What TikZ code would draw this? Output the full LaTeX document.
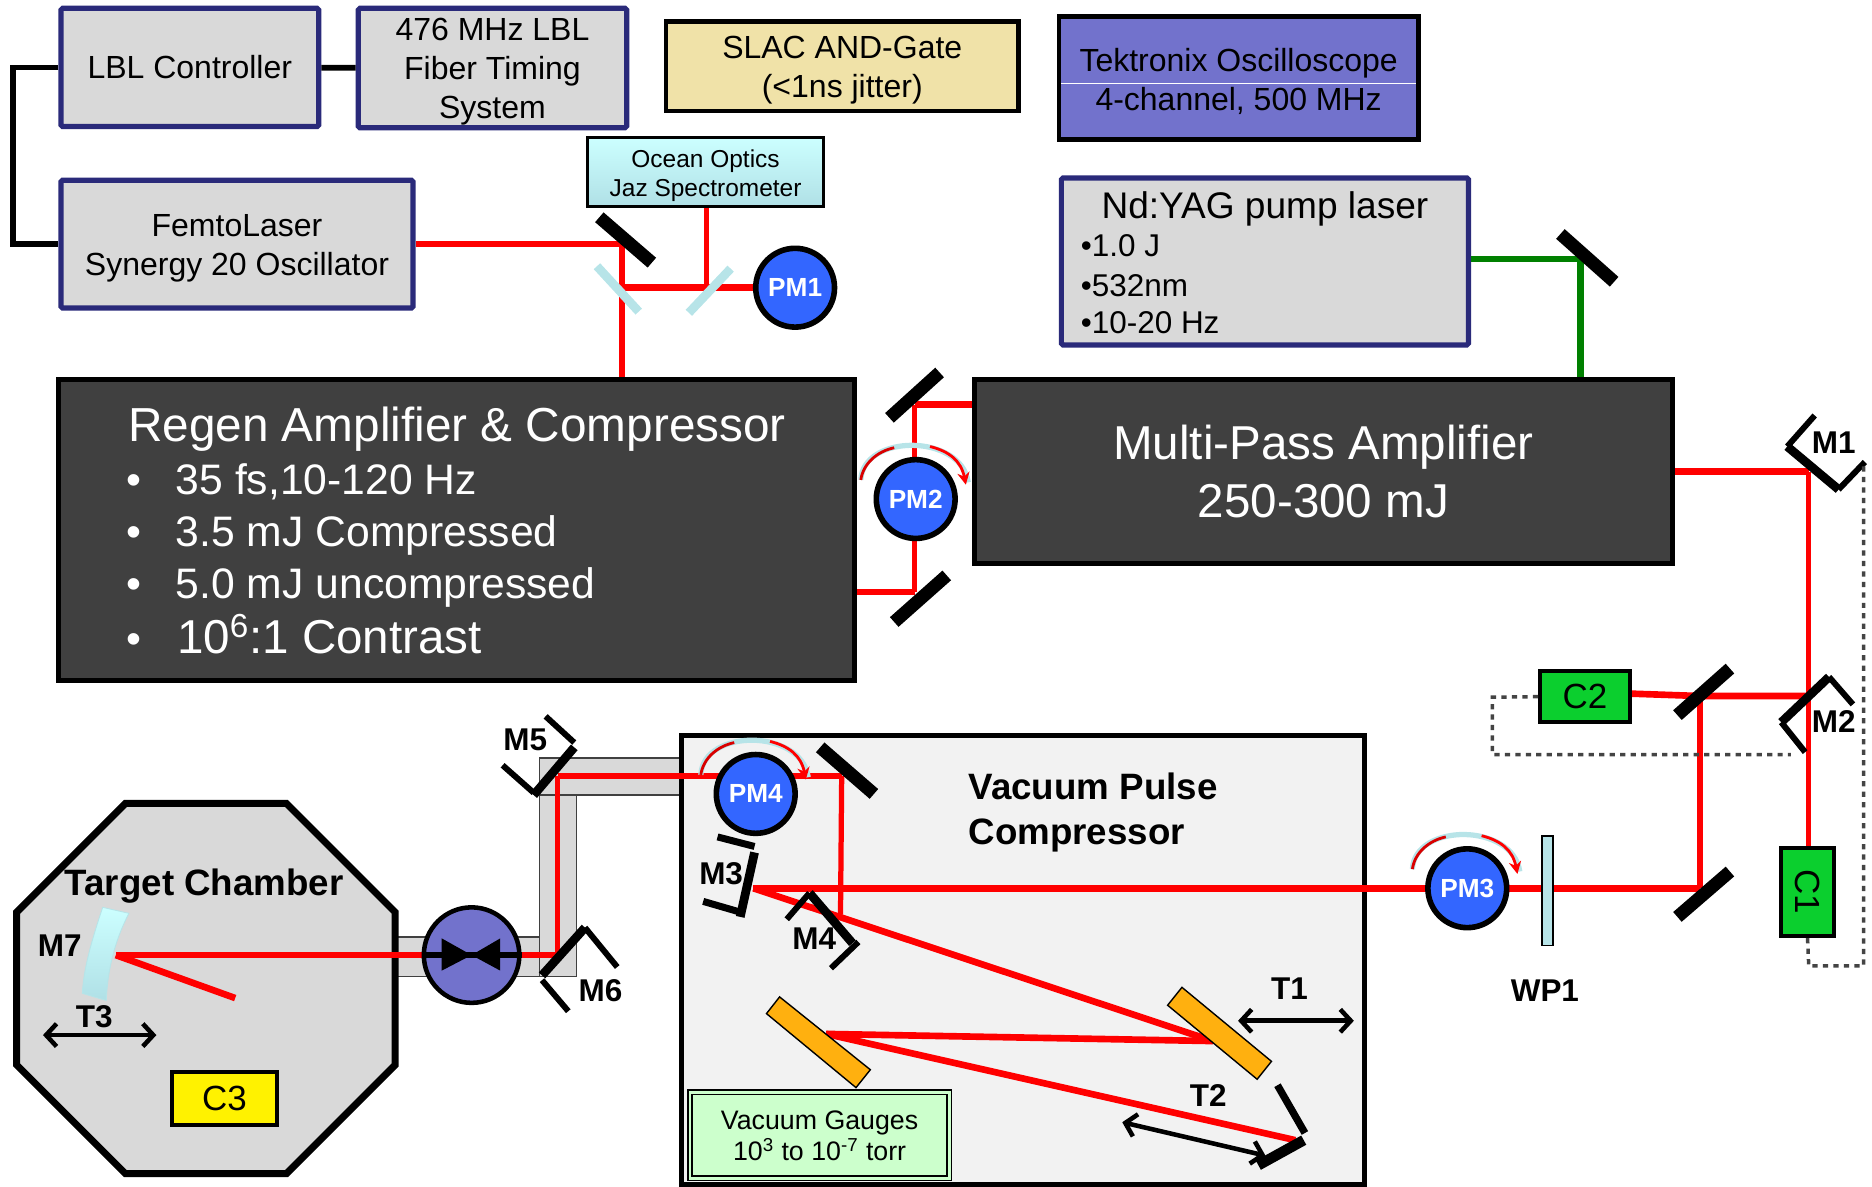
\documentclass[tikz,border=0pt]{standalone}
\usepackage{fontspec}
\setmainfont{Liberation Sans}
\usetikzlibrary{arrows.meta}
\definecolor{navy}{HTML}{2A2A7A}
\definecolor{boxgrey}{HTML}{D9D9D9}
\definecolor{darkbox}{HTML}{404040}
\definecolor{sand}{HTML}{F0E2A8}
\definecolor{scope}{HTML}{7272CC}
\definecolor{pmblue}{HTML}{3366FF}
\definecolor{glass}{HTML}{B7E4E8}
\definecolor{glasstop}{HTML}{CCFFFF}
\definecolor{glassbot}{HTML}{B0E0E6}
\definecolor{paleroom}{HTML}{F2F2F2}
\definecolor{gaugegreen}{HTML}{CCFFCC}
\definecolor{camgreen}{HTML}{0BCF2E}
\definecolor{grating}{HTML}{FFB00F}
\definecolor{beamgreen}{HTML}{008000}
\definecolor{dashgrey}{HTML}{444444}
\tikzset{
    wh/.style 2 args={minimum width=#1*0.024cm,minimum height=#2*0.024cm,inner sep=0pt},
    sized/.style={font=\fontsize{#1}{30}\selectfont},
    navybox/.style={draw=navy,fill=boxgrey,line width=3pt,rounded corners=1pt,font=\fontsize{18.3}{22.3}\selectfont},
    blackbox/.style={draw=black,line width=2.6pt},
    boxtext/.style={align=center,inner sep=0pt,font=\fontsize{18.3}{22.3}\selectfont},
    darkpanel/.style={draw=black,fill=darkbox,line width=3pt,text=white,align=center},
    cambox/.style={draw=black,line width=2.4pt,font=\fontsize{20}{24}\selectfont},
    pmnode/.style={circle,draw=black,fill=pmblue,line width=3.2pt,text=white,minimum size=66*0.024cm,inner sep=0pt,font=\fontsize{15}{18}\bfseries\selectfont},
    tag/.style={font=\fontsize{18}{22}\bfseries\selectfont},
    big/.style={font=\fontsize{21}{25.5}\bfseries\selectfont,align=left},
    beam/.style={red,line width=3.8pt},
    thinbeam/.style={red,line width=3pt},
    mirror/.style={line width=7.4pt},
    mainbar/.style={line width=5pt},
    sidebar/.style={line width=3.4pt},
    tube/.style={draw=black!75,fill=boxgrey,line width=.8pt},
    dashwire/.style={dashgrey,dashed,line width=2pt},
    tarrow/.style={{Straight Barb[length=6pt,width=13pt]}-{Straight Barb[length=6pt,width=13pt]},line width=2.6pt}
}
\begin{document}
\begin{tikzpicture}[x=0.024cm,y=-0.024cm]
    \useasboundingbox (0,0) rectangle (1568,994.2);

    % upper row of boxes
    \node[navybox,wh={216}{99}] (lblctrl) at (159,56.5) {LBL Controller};
    \node[navybox,wh={225}{100}] (fiber) at (412.5,57) {};
    \node[boxtext] (fibert) at ([yshift=-2.2pt]fiber.center) {476 MHz LBL\\Fiber Timing\\System};
    \node[navybox,wh={295}{107}] (femto) at (198.5,204.5) {};
    \node[boxtext] (femtot) at ([yshift=-2.2pt]femto.center) {FemtoLaser\\Synergy 20 Oscillator};
    \node[blackbox,fill=sand,wh={295}{75}] (andgate) at (705.5,55.5) {};
    \node[boxtext] (andgatet) at ([yshift=-2.2pt]andgate.center) {SLAC AND-Gate\\(<1ns jitter)};
    \node[blackbox,fill=scope,wh={301}{103}] (tek) at (1037.5,65.5) {};
    \node[boxtext] (tekt) at ([yshift=-1.6pt]tek.center) {Tektronix Oscilloscope\\4-channel, 500 MHz};
    \draw[white,line width=.6pt] (889,70) -- (1186,70);
    \node[draw=black,line width=1.8pt,top color=glasstop,bottom color=glassbot,wh={198}{58}] (ocean) at (591,144) {};
    \node[boxtext,font=\fontsize{14}{16.4}\selectfont] (oceant) at ([yshift=-2.2pt]ocean.center) {Ocean Optics\\Jaz Spectrometer};
    \node[navybox,wh={341}{140}] (yag) at (1059.5,219) {};
    \node[sized=21.2,anchor=base] (yagt) at (1059.5,183) {Nd:YAG pump laser};
    \foreach \y/\t in {215/1.0 J,248/532nm,279/10-20 Hz}
        \node[font=\fontsize{18}{22}\selectfont,anchor=base west,inner sep=0pt] (yag\y) at (905,\y) {\textbullet\t};

    % amplifiers
    \node[darkpanel,wh={667}{252}] (regen) at (382.5,444) {};
    \node[sized=27.3,text=white,anchor=base west,inner sep=0pt] (regent) at (107,370) {Regen Amplifier \& Compressor};
    \foreach \y in {414,458,501,547}
        \node[sized=24.4,text=white,anchor=base,inner sep=0pt] (dot\y) at (112,\y) {\textbullet};
    \foreach \y/\t in {414/35 fs{,}10-120 Hz,458/3.5 mJ Compressed,501/5.0 mJ uncompressed}
        \node[sized=24.4,text=white,anchor=base west,inner sep=0pt] (reg\y) at (147,\y) {\t};
    \node[sized=27.2,text=white,anchor=base west,inner sep=0pt] (reg547) at (148,547) {10\textsuperscript{6}:1 Contrast};
    \node[darkpanel,wh={585}{154},font=\fontsize{27.2}{33}\selectfont] (mpa) at (1108.5,395) {Multi-Pass Amplifier\\250-300 mJ};

    % tubes and chambers
    \draw[tube] (330,785) -- (452,785) -- (452,635) -- (571,635) -- (571,666) -- (483,666) -- (483,818) -- (330,818);
    \draw[black!75,line width=.8pt] (452,666) -- (483,666);
    \draw[black!75,line width=.8pt] (452,785) -- (452,818);
    \node[draw=black,fill=paleroom,line width=3pt,wh={572}{376}] (vac) at (857,804) {};
    \draw[draw=black,fill=boxgrey,line width=4pt] (105,673) -- (240,673) -- (331,764) -- (331,892) -- (240,983) -- (105,983) -- (14,892) -- (14,764) -- cycle;

    % named turning points of the beams
    \coordinate (hit1) at (521,204.5);
    \coordinate (hit2) at (521,241);
    \coordinate (hit3) at (592,241);
    \coordinate (hit4) at (766,339);
    \coordinate (hit5) at (766,496);
    \coordinate (hit6) at (1324,217);
    \coordinate (hit7) at (1515,395);
    \coordinate (hit8) at (1424,583);
    \coordinate (hit9) at (1424,744);
    \coordinate (m3hit) at (631,744);
    \coordinate (m4hit) at (704,766);
    \coordinate (m5hit) at (467,650);
    \coordinate (m6hit) at (467,800);
    \coordinate (m7hit) at (97,800);
    \coordinate (pmfour) at (705,650);
    \coordinate (gratea) at (1016,872);
    \coordinate (grateb) at (692,866);
    \coordinate (gratec) at (1085,955);
    \coordinate (focus) at (197,836);

    % beams
    \draw[beam] (femto.east) -- (hit1);
    \draw[thinbeam] (hit1) -- (hit1 |- regen.north);
    \draw[beam] (hit2) -- (666,241);
    \draw[thinbeam] (hit3) -- (hit3 |- ocean.south);
    \draw[beam] (mpa.west |- hit4) -- (hit4);
    \draw[thinbeam] (hit4) -- (766,418) -- (hit5);
    \draw[beam] (hit5) -- (regen.east |- hit5);
    \draw[beamgreen,line width=3.8pt] (yag.east |- hit6) -- (hit6) -- (hit6 |- mpa.north);
    \draw[beam] (mpa.east |- hit7) -- (hit7);
    \draw[thinbeam] (hit7) -- (1515,710);
    \draw[beam] (1366,581) -- (hit8) -- (1515,583);
    \draw[thinbeam] (hit8) -- (hit9);
    \draw[beam] (hit9) -- (m3hit);
    \draw[thinbeam] (pmfour) -- (m4hit);
    \draw[beam] (pmfour) -- (m5hit);
    \draw[thinbeam] (m5hit) -- (m6hit);
    \draw[beam] (m6hit) -- (m7hit);
    \draw[beam] (m7hit) -- (focus);
    \draw[beam] (m3hit) -- (gratea);
    \draw[beam] (gratea) -- (grateb);
    \draw[beam] (grateb) -- (gratec);

    % optics
    \foreach \xa/\ya/\xb/\yb in {502/182/546/220,745/350/787/312,749/521/793/482,1307/196/1352/236,
        1405/599/1449/560,1405/768/1449/730,687/626/732/665}
        \draw[mirror] (\xa,\ya) -- (\xb,\yb);
    \foreach \xa/\ya/\xb/\yb in {500/223/535/261,612/225/577/262}
        \draw[glass,line width=5pt] (\xa,\ya) -- (\xb,\yb);
    \foreach \xa/\ya/\xb/\yb in {1497/374/1540/410,1492/605/1532/567,481/626/447/666,490/777/454/817,678/748/714/790,632/714/620/768}
        \draw[mainbar] (\xa,\ya) -- (\xb,\yb);
    \foreach \xa/\ya/\xb/\yb in {1497/374/1520/348,1540/410/1562/387,1532/567/1552/590,1492/605/1512/630,
        481/622/457/600,447/664/421/641,490/777/517/810,454/821/476/847,678/748/659/770,719/789/696/811}
        \draw[sidebar] (\xa,\ya) -- (\xb,\yb);
    \foreach \xa/\ya/\xb/\yb in {601/701/632/709,589/755/620/764}
        \draw[line width=4pt] (\xa,\ya) -- (\xb,\yb);
    \draw[line width=4.2pt] (1070,909) -- (1093,949);
    \draw[line width=6pt] (1092,955) -- (1054,976);
    \draw[draw=black,fill=grating,line width=.8pt] (990,827) -- (1065,889) -- (1053,904) -- (978,842) -- cycle;
    \draw[draw=black,fill=grating,line width=.8pt] (653,835) -- (729,896) -- (717,911) -- (642,849) -- cycle;
    \shade[top color=glasstop,bottom color=glassbot,draw=glass,line width=.5pt] (86,760) .. controls (76,790) and (70,812) .. (69,832)
        -- (89,838) .. controls (90,815) and (95,790) .. (108,765) -- cycle;
    \node[draw=black,fill=glass,line width=1pt,wh={9}{92}] (wp1) at (1296,746) {};

    % power meters and rotation marks
    \node[pmnode] (pm1) at (666,241) {PM1};
    \node[pmnode] (pm2) at (767,418) {PM2};
    \node[pmnode] (pm3) at (1229,744) {PM3};
    \node[pmnode] (pm4) at (633,665) {PM4};
    \foreach \cx/\cy in {767/418,1229/744,633/665} {
        \draw[glass,line width=3pt] (\cx-46,\cy-16) .. controls (\cx-44,\cy-55) and (\cx+38,\cy-55) .. (\cx+44,\cy-14);
        \draw[red!85!black,line width=1.6pt] (\cx-46,\cy-16) .. controls (\cx-44,\cy-30) and (\cx-32,\cy-40) .. (\cx-18,\cy-43);
        \draw[red,line width=1.6pt,-{Stealth[length=7pt,width=7pt]}] (\cx+12,\cy-44) .. controls (\cx+28,\cy-40) and (\cx+38,\cy-32) .. (\cx+42,\cy-12);
    }

    % gate valve
    \node[circle,draw=black,fill=scope,line width=2.6pt,minimum size=80*0.024cm,inner sep=0pt] (valve) at (395,800) {};
    \draw[line width=3pt] (valve.west) -- (valve.east);
    \fill (370,786) -- (395,800) -- (370,813) -- cycle;
    \fill (419,786) -- (395,800) -- (419,813) -- cycle;

    % cameras
    \node[cambox,fill=camgreen,wh={75}{43}] (c2) at (1327.5,583.5) {C2};
    \node[cambox,fill=camgreen,wh={44}{74}] (c1) at (1514,747) {};
    \node[font=\fontsize{20}{24}\selectfont,rotate=-90] (c1t) at (1514,747) {C1};
    \node[cambox,fill=yellow,wh={88}{44}] (c3) at (188,920) {C3};
    \draw[dashwire] (c2.west) -- (1250,584) -- (1250,632) -- (1500,632);
    \draw[dashwire] (c1.south) -- (1515,809) -- (1561,809) -- (1561,387);

    \node[draw=black,double=gaugegreen,fill=gaugegreen,line width=.9pt,double distance=1.6pt,wh={217}{72},align=center,
        font=\fontsize{15.3}{17.8}\selectfont] (gauges) at (686.5,951) {Vacuum Gauges\\10\textsuperscript{3} to 10\textsuperscript{-7} torr};

    % labels
    \node[big,anchor=north west,inner sep=0pt] (vact) at (811,647.5) {Vacuum Pulse\\Compressor};
    \node[big,anchor=base] (chambert) at (171,750) {Target Chamber};
    \foreach \n/\x/\y in {M1/1536/371,M2/1536/604,M3/604/732,M4/682/786,M5/440/620,M6/503/830,M7/50/792,
        T1/1080/828,T2/1012/918,T3/79/852,WP1/1294/830}
        \node[tag,inner sep=0pt] (lab\n) at (\x,\y) {\n};
    \draw[tarrow] (1037,855) -- (1134,855);
    \draw[tarrow] (940,940) -- (1060,968);
    \draw[tarrow] (36,867) -- (131,867);

    % controller wiring
    \draw[line width=3.2pt] (lblctrl) -- (fiber);
    \draw[line width=3.2pt] (lblctrl.west) -- ++(-38,0) |- (femto.west);
\end{tikzpicture}
\end{document}
